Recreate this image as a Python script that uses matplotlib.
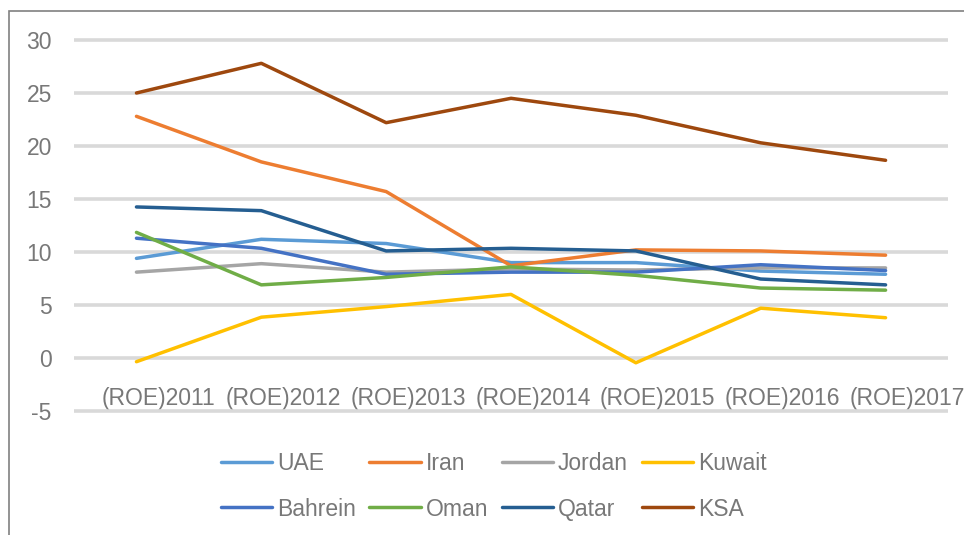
"""
ROE by country, 2011-2017 (line chart, Excel style).
"""
import matplotlib

matplotlib.use("Agg")
import matplotlib.pyplot as plt
from matplotlib.patches import Rectangle
from matplotlib.transforms import ScaledTranslation

plt.rcParams["font.family"] = ["Liberation Sans", "DejaVu Sans"]
plt.rcParams["axes.unicode_minus"] = False

YEARS = ["(ROE)2011", "(ROE)2012", "(ROE)2013", "(ROE)2014", "(ROE)2015", "(ROE)2016", "(ROE)2017"]

UAE = [9.4, 11.2, 10.8, 9.0, 9.0, 8.2, 7.9]
IRAN = [22.8, 18.5, 15.7, 8.7, 10.2, 10.1, 9.7]
JORDAN = [8.1, 8.9, 8.1, 8.4, 8.3, 8.5, 8.5]
KUWAIT = [-0.35, 3.85, 4.85, 6.0, -0.45, 4.7, 3.8]
BAHREIN = [11.3, 10.35, 7.9, 8.1, 8.1, 8.8, 8.25]
OMAN = [11.85, 6.9, 7.6, 8.6, 7.8, 6.6, 6.4]
QATAR = [14.25, 13.9, 10.1, 10.35, 10.1, 7.45, 6.9]
KSA = [25.0, 27.8, 22.2, 24.5, 22.9, 20.3, 18.65]

SERIES = [
    ("UAE", UAE, "#5B9BD5"),
    ("Iran", IRAN, "#ED7D31"),
    ("Jordan", JORDAN, "#A5A5A5"),
    ("Kuwait", KUWAIT, "#FFC000"),
    ("Bahrein", BAHREIN, "#4472C4"),
    ("Oman", OMAN, "#70AD47"),
    ("Qatar", QATAR, "#255E91"),
    ("KSA", KSA, "#9E480E"),
]

TEXT_COLOR = "#787878"
GRID_COLOR = "#D9D9D9"


def main():
    fig = plt.figure(figsize=(9.64, 5.35), dpi=100)
    ax = fig.add_axes([0.0768, 0.2288, 0.9066, 0.6994])

    # outer chart frame (cut off at the right and bottom in the source)
    fig.patches.append(
        Rectangle((9 / 964, -0.05), 1.1, 1 - 11 / 535 + 0.05, transform=fig.transFigure,
                  fill=False, edgecolor="#808080", linewidth=1.2, clip_on=False)
    )

    x = list(range(len(YEARS)))
    handles = {}
    for name, vals, color in SERIES:
        (ln,) = ax.plot(x, vals, color=color, linewidth=2.5, solid_joinstyle="round",
                        solid_capstyle="round", label=name, zorder=3)
        handles[name] = ln

    ax.set_xlim(-0.5, len(YEARS) - 0.5)
    ax.set_ylim(-5.15, 30.15)
    ax.set_yticks(range(-5, 31, 5))
    ax.yaxis.grid(True, color=GRID_COLOR, linewidth=2.6)
    ax.set_axisbelow(True)
    for s in ax.spines.values():
        s.set_visible(False)
    ax.spines["bottom"].set_position(("data", 0))

    ax.set_xticks(x)
    ax.set_xticklabels(YEARS)
    ax.tick_params(axis="x", length=0, pad=21, labelsize=16.5, labelcolor=TEXT_COLOR)
    ax.tick_params(axis="y", length=0, pad=16, labelsize=16.5, labelcolor=TEXT_COLOR)
    # category labels sit a little right of their points, as in the source
    shift = ScaledTranslation(22 / 100, 0, fig.dpi_scale_trans)
    for lab in ax.get_xticklabels():
        lab.set_transform(lab.get_transform() + shift)

    order = ["UAE", "Bahrein", "Iran", "Oman", "Jordan", "Qatar", "Kuwait", "KSA"]
    fig.legend([handles[n] for n in order], order, loc="center", bbox_to_anchor=(0.512, 0.0915),
               ncol=4, frameon=False, fontsize=16.5, labelcolor=TEXT_COLOR, handlelength=2.25,
               handletextpad=0.2, columnspacing=0.6, labelspacing=1.0, borderpad=0)

    fig.savefig("out.png", dpi=100)
    plt.close(fig)


if __name__ == "__main__":
    main()
